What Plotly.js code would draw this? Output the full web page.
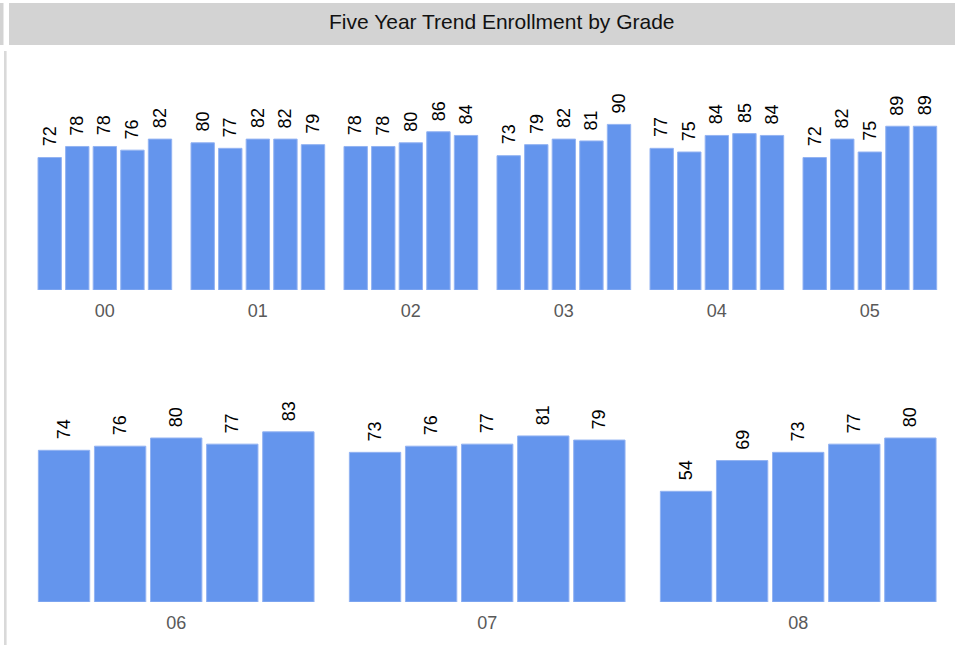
<!DOCTYPE html>
<html>
<head>
<meta charset="utf-8">
<script src="https://cdn.plot.ly/plotly-3.0.1.min.js"></script>
<style>
  html, body { margin: 0; padding: 0; background: #ffffff; }
  #chart { width: 972px; height: 645px; }
</style>
</head>
<body>
<div id="chart"></div>
<script>
// ---- data ----
const chartTitle = 'Five Year Trend Enrollment by Grade';
const years = ['Y1', 'Y2', 'Y3', 'Y4', 'Y5'];
const grades = ['00', '01', '02', '03', '04', '05', '06', '07', '08'];
const grade00 = [72, 78, 78, 76, 82];
const grade01 = [80, 77, 82, 82, 79];
const grade02 = [78, 78, 80, 86, 84];
const grade03 = [73, 79, 82, 81, 90];
const grade04 = [77, 75, 84, 85, 84];
const grade05 = [72, 82, 75, 89, 89];
const grade06 = [74, 76, 80, 77, 83];
const grade07 = [73, 76, 77, 81, 79];
const grade08 = [54, 69, 73, 77, 80];
const gradeValues = [grade00, grade01, grade02, grade03, grade04, grade05, grade06, grade07, grade08];

// ---- layout helpers (pixels -> paper) ----
const W = 972, H = 645;
const px = v => v / W;
const py = v => 1 - v / H;

const barColor = '#6495ED';
const edgeColor = '#93b3f2';
const fontFam = '"Liberation Sans", Arial, sans-serif';

const traces = [];
const layout = {
  width: W, height: H,
  margin: {l: 0, r: 0, t: 0, b: 0},
  paper_bgcolor: '#ffffff',
  plot_bgcolor: '#ffffff',
  showlegend: false,
  font: {family: fontFam},
  shapes: [],
  annotations: []
};

grades.forEach((g, i) => {
  const top = i < 6;
  const col = top ? i : i - 6;
  let x0, x1, y0, y1, w;
  if (top) {
    x0 = 35.9 + 153 * col; x1 = 173.8 + 153 * col;
    y0 = py(290); y1 = py(290 - 184);
    w = 0.848;
  } else {
    x0 = 36 + 311 * col; x1 = 316.4 + 311 * col;
    y0 = py(602); y1 = py(602 - 205);
    w = 0.916;
  }
  const n = i + 1;
  const xa = 'x' + (n === 1 ? '' : n);
  const ya = 'y' + (n === 1 ? '' : n);
  traces.push({
    type: 'bar',
    x: years,
    y: gradeValues[i],
    xaxis: xa, yaxis: ya,
    width: w,
    marker: {color: barColor, line: {color: edgeColor, width: 1}},
    hoverinfo: 'none'
  });
  // value labels, placed at each bar's top through the axes
  gradeValues[i].forEach((v, k) => {
    layout.annotations.push({
      xref: xa, yref: ya,
      x: years[k], y: v,
      xanchor: 'center', yanchor: 'bottom',
      yshift: 9,
      textangle: -90,
      text: String(v),
      showarrow: false,
      font: {family: fontFam, size: 18, color: '#000000'}
    });
  });
  layout['xaxis' + (n === 1 ? '' : n)] = {
    domain: [px(x0), px(x1)],
    anchor: ya,
    type: 'category',
    range: [-0.5, 4.5],
    tickmode: 'array',
    tickvals: [years[2]],
    ticktext: [g],
    ticks: '',
    ticklabelstandoff: 8,
    showgrid: false, zeroline: false, showline: false,
    tickfont: {family: fontFam, size: 18, color: '#595959'},
    fixedrange: true
  };
  layout['yaxis' + (n === 1 ? '' : n)] = {
    domain: [y0, y1],
    anchor: xa,
    range: [0, 100],
    showticklabels: false,
    showgrid: false, zeroline: false, showline: false,
    fixedrange: true
  };
});

// title bar and left rule
layout.shapes.push({type: 'rect', xref: 'paper', yref: 'paper',
  x0: px(9), x1: px(955), y0: py(45), y1: py(3),
  fillcolor: '#d3d3d3', line: {width: 0}, layer: 'below'});
layout.shapes.push({type: 'rect', xref: 'paper', yref: 'paper',
  x0: px(0), x1: px(3.5), y0: py(45), y1: py(3),
  fillcolor: '#d3d3d3', line: {width: 0}, layer: 'below'});
layout.shapes.push({type: 'rect', xref: 'paper', yref: 'paper',
  x0: px(4), x1: px(6.6), y0: py(645), y1: py(51),
  fillcolor: '#d9d9d9', line: {width: 0}, layer: 'below'});

layout.annotations.push({
  xref: 'paper', yref: 'paper',
  x: px(502.5), y: py(21), xanchor: 'center', yanchor: 'middle',
  text: chartTitle, showarrow: false,
  font: {family: fontFam, size: 21, color: '#111111'}
});

Plotly.newPlot('chart', traces, layout, {displayModeBar: false, staticPlot: true});
</script>
</body>
</html>
